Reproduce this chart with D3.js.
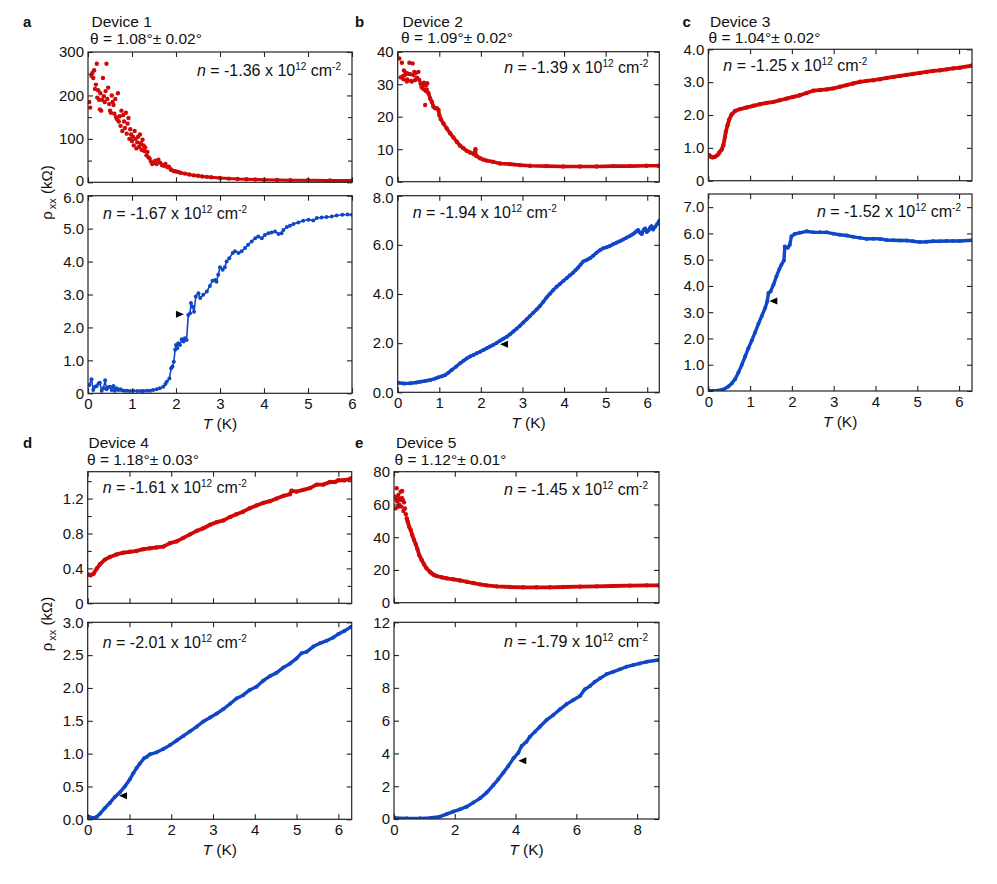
<!DOCTYPE html>
<html><head><meta charset="utf-8">
<script src="https://cdn.jsdelivr.net/npm/d3@7"></script>
<style>
body{margin:0;background:#fff;}
svg text{font-family:"Liberation Sans",Arial,Helvetica,sans-serif;fill:#111;}
</style></head><body>
<svg id="chart" width="997" height="884"></svg>
<script>
// ---------------- DATA (T in K, rho_xx in kOhm) ----------------
const dev1TopScatter = [[0.03,185],[0.05,172],[0.08,245],[0.1,252],[0.12,240],[0.14,258],[0.16,215],[0.18,225],[0.2,273],[0.21,195],[0.23,212],[0.25,190],[0.27,168],[0.28,205],[0.3,165],[0.32,190],[0.34,240],[0.36,198],[0.38,185],[0.4,210],[0.42,273],[0.44,192],[0.46,218],[0.48,180],[0.5,165],[0.52,160],[0.54,200],[0.56,185],[0.58,178],[0.6,158],[0.62,192],[0.64,150],[0.66,145],[0.68,205],[0.7,140],[0.72,152],[0.74,130],[0.76,165],[0.78,118],[0.8,155],[0.82,140],[0.84,125],[0.86,160],[0.88,112],[0.9,135],[0.92,148],[0.94,100],[0.96,122],[0.98,110],[1.0,95],[1.02,105],[1.04,85],[1.06,118],[1.08,100],[1.1,78],[1.12,92],[1.14,105],[1.16,82],[1.18,110],[1.2,90],[1.22,75],[1.24,98],[1.26,85],[1.28,72],[1.3,80],[1.33,62],[1.35,70],[1.37,58],[1.4,55],[1.43,48],[1.46,42],[1.5,45],[1.53,50],[1.56,42],[1.6,52],[1.64,45],[1.68,40],[1.72,38],[1.76,42],[1.8,35],[1.84,36],[1.88,30]];
const dev1TopTrace = [[1.9,28],[1.95,26],[2.0,25],[2.05,24],[2.1,22],[2.2,20],[2.3,18],[2.4,16],[2.5,15],[2.6,13.5],[2.7,12.5],[2.8,11.5],[3.0,10],[3.2,8.5],[3.4,7.5],[3.6,7],[3.8,6.5],[4.0,6],[4.3,5.5],[4.6,5],[5.0,4.7],[5.5,4.4],[6.0,4.2]];
const dev1Bottom = [[0.03,0.25],[0.08,0.43],[0.12,0.1],[0.16,0.2],[0.2,0.22],[0.24,0.3],[0.27,0.32],[0.31,0.08],[0.35,0.15],[0.39,0.4],[0.42,0.12],[0.46,0.18],[0.5,0.2],[0.54,0.1],[0.58,0.22],[0.61,0.08],[0.65,0.15],[0.69,0.1],[0.73,0.12],[0.77,0.09],[0.82,0.08],[0.88,0.08],[0.95,0.07],[1.03,0.08],[1.12,0.07],[1.2,0.07],[1.26,0.07],[1.34,0.08],[1.41,0.08],[1.48,0.1],[1.56,0.12],[1.63,0.15],[1.71,0.2],[1.76,0.28],[1.79,0.35],[1.85,0.45],[1.89,0.76],[1.92,0.81],[1.95,0.96],[1.98,1.32],[2.0,1.47],[2.03,1.37],[2.05,1.52],[2.09,1.47],[2.13,1.64],[2.17,1.57],[2.2,1.67],[2.24,1.62],[2.28,2.38],[2.32,2.43],[2.34,2.74],[2.38,2.63],[2.41,2.48],[2.45,2.94],[2.51,3.04],[2.55,2.89],[2.62,2.99],[2.7,3.09],[2.77,3.26],[2.83,3.42],[2.89,3.44],[2.92,3.39],[2.96,3.6],[3.0,3.83],[3.06,3.75],[3.11,3.83],[3.15,4.0],[3.21,4.1],[3.29,4.26],[3.34,4.31],[3.42,4.26],[3.49,4.31],[3.57,4.41],[3.64,4.51],[3.72,4.61],[3.8,4.71],[3.87,4.76],[3.95,4.71],[4.02,4.81],[4.1,4.86],[4.17,4.88],[4.25,4.91],[4.33,4.84],[4.4,4.86],[4.44,4.96],[4.52,5.05],[4.59,5.09],[4.67,5.14],[4.78,5.19],[4.89,5.24],[5.01,5.27],[5.12,5.25],[5.2,5.32],[5.31,5.34],[5.42,5.35],[5.54,5.37],[5.65,5.4],[5.78,5.42],[5.9,5.43],[6.0,5.42]];

const dev2TopScatter = [[0.04,37.9],[0.07,32.1],[0.1,36.6],[0.12,32.5],[0.14,31.5],[0.15,34.2],[0.17,32.8],[0.2,33.5],[0.22,30.8],[0.23,31.5],[0.25,33.2],[0.28,36.6],[0.3,33.1],[0.32,31.0],[0.34,30.8],[0.36,36.4],[0.38,32.8],[0.4,33.8],[0.42,31.3],[0.44,33.5],[0.46,32.0],[0.47,31.8],[0.5,33.8],[0.52,31.3],[0.55,30.3],[0.57,29.5],[0.58,29.0],[0.6,29.7],[0.62,28.5],[0.63,30.5],[0.66,23.6],[0.67,28.0],[0.68,29.7],[0.7,28.4],[0.71,30.3],[0.72,27.5]];
const dev2TopTrace = [[0.74,27.2],[0.78,25.6],[0.82,24.6],[0.86,23.1],[0.9,22.6],[0.94,22.6],[0.98,22.1],[1.0,20.5],[1.04,19.2],[1.1,17.9],[1.18,16.4],[1.26,14.9],[1.34,13.6],[1.42,12.3],[1.5,11.1],[1.58,10.3],[1.66,9.5],[1.74,9.0],[1.83,8.5],[1.87,10.0],[1.88,8.0],[1.9,7.9],[1.98,7.2],[2.06,6.8],[2.14,6.5],[2.3,6.1],[2.46,5.6],[2.7,5.4],[2.94,5.1],[3.18,4.9],[3.58,4.8],[3.98,4.7],[4.38,4.7],[4.78,4.7],[5.18,4.8],[5.58,4.8],[5.98,4.9],[6.27,4.9]];
const dev2Bottom = [[0.02,0.39],[0.15,0.36],[0.3,0.37],[0.45,0.4],[0.54,0.43],[0.66,0.46],[0.78,0.5],[0.9,0.56],[0.98,0.61],[1.06,0.65],[1.14,0.7],[1.22,0.8],[1.3,0.91],[1.4,1.04],[1.5,1.18],[1.58,1.28],[1.66,1.38],[1.74,1.46],[1.82,1.52],[1.9,1.59],[1.98,1.65],[2.06,1.72],[2.14,1.79],[2.22,1.86],[2.3,1.93],[2.38,2.01],[2.46,2.1],[2.54,2.18],[2.62,2.26],[2.7,2.36],[2.78,2.47],[2.86,2.59],[2.94,2.71],[3.02,2.84],[3.1,2.97],[3.18,3.1],[3.26,3.24],[3.34,3.37],[3.42,3.51],[3.5,3.68],[3.58,3.86],[3.66,4.01],[3.74,4.16],[3.82,4.29],[3.9,4.41],[3.98,4.53],[4.06,4.64],[4.14,4.76],[4.22,4.87],[4.28,4.98],[4.34,5.08],[4.4,5.2],[4.46,5.32],[4.54,5.38],[4.62,5.45],[4.7,5.56],[4.78,5.68],[4.86,5.78],[4.94,5.86],[5.02,5.9],[5.1,5.95],[5.18,6.02],[5.26,6.09],[5.34,6.15],[5.42,6.22],[5.5,6.29],[5.58,6.36],[5.64,6.42],[5.7,6.49],[5.74,6.55],[5.78,6.6],[5.82,6.5],[5.87,6.44],[5.91,6.6],[5.95,6.67],[5.99,6.52],[6.03,6.58],[6.07,6.7],[6.1,6.76],[6.14,6.62],[6.19,6.74],[6.24,6.85],[6.29,6.98]];

const dev3TopTrace = [[0.02,0.78],[0.06,0.73],[0.1,0.71],[0.16,0.73],[0.22,0.78],[0.26,0.85],[0.32,0.95],[0.36,1.08],[0.4,1.34],[0.42,1.49],[0.46,1.69],[0.5,1.86],[0.56,2.02],[0.64,2.12],[0.76,2.18],[0.92,2.23],[1.08,2.28],[1.24,2.33],[1.4,2.37],[1.56,2.4],[1.71,2.45],[1.87,2.5],[2.03,2.55],[2.19,2.6],[2.35,2.67],[2.51,2.74],[2.67,2.76],[2.83,2.78],[2.99,2.81],[3.15,2.86],[3.31,2.91],[3.47,2.96],[3.63,3.01],[3.79,3.04],[3.95,3.06],[4.11,3.09],[4.27,3.13],[4.43,3.16],[4.59,3.19],[4.74,3.22],[4.9,3.25],[5.06,3.28],[5.22,3.31],[5.38,3.34],[5.54,3.36],[5.7,3.39],[5.86,3.42],[6.02,3.44],[6.3,3.5]];
const dev3Bottom = [[0.02,0.01],[0.2,0.01],[0.36,0.06],[0.48,0.17],[0.56,0.29],[0.64,0.45],[0.72,0.7],[0.8,0.99],[0.88,1.31],[0.96,1.63],[1.04,1.92],[1.12,2.23],[1.2,2.56],[1.28,2.86],[1.36,3.16],[1.41,3.41],[1.44,3.73],[1.49,3.79],[1.56,4.05],[1.63,4.36],[1.7,4.64],[1.75,4.81],[1.81,4.97],[1.83,5.5],[1.9,5.45],[1.95,5.57],[1.99,5.89],[2.07,5.98],[2.19,6.02],[2.35,6.08],[2.51,6.04],[2.67,6.04],[2.83,6.04],[2.99,5.99],[3.15,5.95],[3.31,5.92],[3.47,5.87],[3.63,5.83],[3.79,5.79],[3.95,5.8],[4.11,5.79],[4.27,5.75],[4.43,5.74],[4.59,5.73],[4.74,5.73],[4.9,5.7],[5.06,5.67],[5.22,5.68],[5.38,5.7],[5.54,5.7],[5.7,5.71],[5.86,5.71],[6.02,5.71],[6.32,5.74]];

const dev4TopTrace = [[0.02,0.33],[0.07,0.32],[0.14,0.34],[0.22,0.4],[0.3,0.45],[0.41,0.5],[0.53,0.53],[0.69,0.56],[0.85,0.58],[1.01,0.59],[1.17,0.6],[1.33,0.62],[1.49,0.63],[1.65,0.64],[1.81,0.65],[1.97,0.69],[2.13,0.71],[2.29,0.75],[2.45,0.79],[2.61,0.83],[2.77,0.86],[2.93,0.9],[3.09,0.93],[3.25,0.95],[3.41,0.99],[3.56,1.02],[3.72,1.05],[3.88,1.09],[4.04,1.12],[4.2,1.15],[4.36,1.17],[4.52,1.2],[4.68,1.23],[4.84,1.25],[4.88,1.29],[5.0,1.28],[5.16,1.3],[5.32,1.32],[5.48,1.36],[5.64,1.36],[5.8,1.39],[5.92,1.39],[6.0,1.41],[6.15,1.41],[6.3,1.43]];
const dev4Bottom = [[0.02,0.04],[0.14,0.02],[0.22,0.04],[0.3,0.09],[0.41,0.17],[0.53,0.25],[0.65,0.34],[0.77,0.41],[0.89,0.5],[1.01,0.61],[1.09,0.7],[1.17,0.78],[1.25,0.85],[1.35,0.93],[1.41,0.95],[1.49,0.99],[1.65,1.02],[1.81,1.07],[1.97,1.13],[2.13,1.2],[2.29,1.27],[2.45,1.34],[2.61,1.41],[2.77,1.49],[2.93,1.55],[3.09,1.61],[3.25,1.68],[3.41,1.76],[3.56,1.84],[3.72,1.89],[3.88,1.97],[4.04,2.02],[4.2,2.11],[4.36,2.18],[4.52,2.23],[4.68,2.31],[4.84,2.37],[5.0,2.45],[5.12,2.53],[5.24,2.55],[5.4,2.63],[5.56,2.68],[5.72,2.72],[5.88,2.77],[6.0,2.82],[6.15,2.87],[6.3,2.93]];

const dev5TopScatter = [[0.03,64.8],[0.05,57.6],[0.07,63],[0.09,69.9],[0.11,61.7],[0.13,58.5],[0.14,65.8],[0.16,63.5],[0.18,59.7],[0.2,62.7],[0.22,67.8],[0.24,58.7],[0.26,64],[0.27,68.2],[0.29,62.7],[0.31,56],[0.33,61.3],[0.36,57.6],[0.39,54]];
const dev5TopTrace = [[0.42,51.5],[0.45,49.5],[0.5,46.4],[0.55,44.4],[0.6,41.3],[0.66,38.3],[0.72,35.6],[0.77,32.8],[0.83,29.1],[0.91,26.1],[0.99,23.4],[1.07,21],[1.18,18.9],[1.24,17.9],[1.32,16.9],[1.4,16.3],[1.57,15.5],[1.73,14.9],[1.95,14.3],[2.17,13.6],[2.39,12.8],[2.61,12],[2.83,11.2],[3.05,10.6],[3.38,10],[3.82,9.6],[4.25,9.4],[4.69,9.4],[5.13,9.4],[5.57,9.6],[6.12,9.8],[6.67,10],[7.21,10.2],[7.76,10.4],[8.31,10.6],[8.7,10.6]];
const dev5Bottom = [[0.03,0.06],[0.42,0.04],[0.86,0.04],[1.18,0.06],[1.51,0.14],[1.73,0.3],[1.95,0.45],[2.17,0.59],[2.39,0.75],[2.61,1.0],[2.83,1.26],[3.05,1.61],[3.27,2.07],[3.43,2.42],[3.6,2.83],[3.76,3.23],[3.93,3.7],[4.09,4.04],[4.2,4.45],[4.36,4.72],[4.47,5.02],[4.64,5.33],[4.8,5.63],[5.02,6.04],[5.24,6.34],[5.46,6.69],[5.68,7.01],[5.9,7.26],[6.12,7.5],[6.28,7.91],[6.45,8.11],[6.61,8.37],[6.78,8.58],[7.0,8.84],[7.21,8.98],[7.43,9.13],[7.65,9.29],[7.87,9.39],[8.09,9.49],[8.31,9.59],[8.7,9.7]];

// tick values and labels
const xTicks6 = [0,1,2,3,4,5,6];
const xLabels6 = ["0","1","2","3","4","5","6"];
const xTicks8 = [0,2,4,6,8];
const xLabels8 = ["0","2","4","6","8"];
const aTopTicks = [0,100,200,300], aTopLabels = ["0","100","200","300"], aTopMinor = [50,150,250];
const aBotTicks = [0,1,2,3,4,5,6], aBotLabels = ["0","1.0","2.0","3.0","4.0","5.0","6.0"];
const bTopTicks = [0,10,20,30,40], bTopLabels = ["0","10","20","30","40"];
const bBotTicks = [0,2,4,6,8], bBotLabels = ["0.0","2.0","4.0","6.0","8.0"];
const cTopTicks = [0,1,2,3,4], cTopLabels = ["0","1.0","2.0","3.0","4.0"];
const cBotTicks = [0,1,2,3,4,5,6,7], cBotLabels = ["0","1.0","2.0","3.0","4.0","5.0","6.0","7.0"];
const dTopTicks = [0,0.4,0.8,1.2], dTopLabels = ["0","0.4","0.8","1.2"], dTopMinor = [0.2,0.6,1.0,1.4];
const dBotTicks = [0,0.5,1,1.5,2,2.5,3], dBotLabels = ["0.0","0.5","1.0","1.5","2.0","2.5","3.0"];
const eTopTicks = [0,20,40,60,80], eTopLabels = ["0","20","40","60","80"];
const eBotTicks = [0,2,4,6,8,10,12], eBotLabels = ["0","2","4","6","8","10","12"];

const deviceNames = ["Device 1","Device 2","Device 3","Device 4","Device 5"];
const twistAngles = ["θ = 1.08°± 0.02°","θ = 1.09°± 0.02°","θ = 1.04°± 0.02°","θ = 1.18°± 0.03°","θ = 1.12°± 0.01°"];
const densTop = ["-1.36","-1.39","-1.25","-1.61","-1.45"];
const densBot = ["-1.67","-1.94","-1.52","-2.01","-1.79"];
const arrowT = [2.18, 2.46, 1.46, 0.75, 4.09];
const arrowR = [2.4, 1.96, 3.43, 0.36, 3.56];
const arrowDir = ["right","left","left","left","left"];

// ---------------- DRAWING ----------------
const RED = "#d00808", BLUE = "#1046c8";
const svg = d3.select("#chart");
let clipId = 0;

function plot(cfg){
  const x = d3.scaleLinear().domain(cfg.xDomain).range([cfg.left, cfg.right]);
  const y = d3.scaleLinear().domain(cfg.yDomain).range([cfg.bottom, cfg.top]);
  const g = svg.append("g");
  const id = "clip" + (clipId++);
  svg.append("clipPath").attr("id", id).append("rect")
    .attr("x", cfg.left).attr("y", cfg.top)
    .attr("width", cfg.right - cfg.left).attr("height", cfg.bottom - cfg.top);
  const dg = g.append("g").attr("clip-path", `url(#${id})`);
  (cfg.series || []).forEach(s => {
    if (s.line) {
      dg.append("path").datum(s.data)
        .attr("fill","none").attr("stroke", s.color).attr("stroke-width", s.lw || 2.6)
        .attr("stroke-linejoin","round").attr("stroke-linecap","round")
        .attr("d", d3.line().x(d => x(d[0])).y(d => y(d[1])));
    }
    dg.selectAll(null).data(s.data).enter().append("circle")
      .attr("cx", d => x(d[0])).attr("cy", d => y(d[1])).attr("r", s.r || 2.1)
      .attr("fill", s.color);
  });
  // axes (ticks inside, mirrored)
  const style = sel => {
    sel.select(".domain").remove();
    sel.selectAll("line").attr("stroke","#222").attr("stroke-width",1.1);
    sel.selectAll("text").attr("font-size", 15).attr("fill","#111")
      .attr("font-family", '"Liberation Sans", Arial, sans-serif');
  };
  const ly = g.append("g").attr("transform",`translate(${cfg.left},0)`)
    .call(d3.axisLeft(y).tickValues(cfg.yTicks).tickSize(-5).tickPadding(4)
      .tickFormat((d,i) => cfg.yLabels[i])).call(style);
  // small nudge so stacked "0" / top labels of adjacent plots do not collide
  if (cfg.nudgeBottom) ly.selectAll(".tick").filter(d => d === cfg.yDomain[0]).select("text").attr("y", -1.5);
  if (cfg.nudgeTop) ly.selectAll(".tick").filter(d => d === cfg.yTicks[cfg.yTicks.length-1]).select("text").attr("y", 1.5);
  g.append("g").attr("transform",`translate(${cfg.right},0)`)
    .call(d3.axisRight(y).tickValues(cfg.yTicks).tickSize(-5).tickFormat("")).call(style);
  if (cfg.yMinor) {
    g.append("g").attr("transform",`translate(${cfg.left},0)`)
      .call(d3.axisLeft(y).tickValues(cfg.yMinor).tickSize(-4).tickFormat("")).call(style);
    g.append("g").attr("transform",`translate(${cfg.right},0)`)
      .call(d3.axisRight(y).tickValues(cfg.yMinor).tickSize(-4).tickFormat("")).call(style);
  }
  g.append("g").attr("transform",`translate(0,${cfg.top})`)
    .call(d3.axisTop(x).tickValues(cfg.xTicks).tickSize(-5).tickFormat("")).call(style);
  g.append("g").attr("transform",`translate(0,${cfg.bottom})`)
    .call(d3.axisBottom(x).tickValues(cfg.xTicks).tickSize(-5).tickPadding(5)
      .tickFormat((d,i) => cfg.xLabels ? cfg.xLabels[i] : "")).call(style);
  // frame
  g.append("rect").attr("x", cfg.left).attr("y", cfg.top)
    .attr("width", cfg.right - cfg.left).attr("height", cfg.bottom - cfg.top)
    .attr("fill","none").attr("stroke","#222").attr("stroke-width",1.2);
  // density annotation
  if (cfg.dens) {
    const t = g.append("text").attr("font-size",16).attr("y", cfg.densY);
    if (cfg.densAnchor === "end") t.attr("x", cfg.right - 11).attr("text-anchor","end");
    else t.attr("x", cfg.left + 15);
    t.append("tspan").attr("font-style","italic").text("n");
    t.append("tspan").text(" = " + cfg.dens + " x 10");
    t.append("tspan").attr("font-size",10).attr("dy",-6).text("12");
    t.append("tspan").attr("dy",6).text(" cm");
    t.append("tspan").attr("font-size",10).attr("dy",-6).text("-2");
  }
  // arrow
  if (cfg.arrow) {
    const ax = x(cfg.arrow.t), ay = y(cfg.arrow.r);
    const w = 8, h = 3.5;
    const pts = cfg.arrow.dir === "right"
      ? [[ax,ay],[ax-w,ay-h],[ax-w,ay+h]]
      : [[ax,ay],[ax+w,ay-h],[ax+w,ay+h]];
    g.append("path").attr("d", d3.line()(pts) + "Z").attr("fill","#000");
  }
  return {x, y};
}

function xTitle(cx, by){
  const t = svg.append("text").attr("x", cx).attr("y", by).attr("text-anchor","middle").attr("font-size",15.5);
  t.append("tspan").attr("font-style","italic").text("T");
  t.append("tspan").text(" (K)");
}
function yTitle(bx, cy){
  const t = svg.append("text").attr("transform",`translate(${bx},${cy}) rotate(-90)`)
    .attr("text-anchor","middle").attr("font-size",15);
  t.append("tspan").text("ρ");
  t.append("tspan").attr("font-size",11).attr("dx",2).attr("dy",3.5).text("xx");
  t.append("tspan").attr("dy",-3.5).text(" (kΩ)");
}
function header(letter, lx, dx, by, i){
  svg.append("text").attr("x", lx).attr("y", by).attr("font-size",15).attr("font-weight","bold").text(letter);
  svg.append("text").attr("x", dx).attr("y", by).attr("font-size",15.5).text(deviceNames[i]);
  svg.append("text").attr("x", dx - 1.5).attr("y", by + 16.5).attr("font-size",15.5).text(twistAngles[i]);
}

const P = [
  {L:88, R:352, top:[52,182.3], bot:[195.7,393.3], xMax:6, xT:xTicks6, xL:xLabels6, nudge:true,
   tY:aTopTicks, tL:aTopLabels, tMin:aTopMinor, tD:[0,300], bY:aBotTicks, bL:aBotLabels, bD:[0,6],
   topSeries:[{data:dev1TopScatter,color:RED,r:2.2},{data:dev1TopTrace,color:RED,line:true,lw:3,r:2.2}],
   botSeries:[{data:dev1Bottom,color:BLUE,line:true,lw:1.6,r:2.0}],
   tAnch:"end", tDY:75.5, bAnch:"start", bDY:219.3},
  {L:397.7, R:659.3, top:[51.7,181.7], bot:[195.7,392.3], xMax:6.29, xT:xTicks6, xL:xLabels6, nudge:true,
   tY:bTopTicks, tL:bTopLabels, tD:[0,40], bY:bBotTicks, bL:bBotLabels, bD:[0,8],
   topSeries:[{data:dev2TopScatter,color:RED,r:2.2},{data:dev2TopTrace,color:RED,line:true,lw:3.6,r:2.2}],
   botSeries:[{data:dev2Bottom,color:BLUE,line:true,lw:3.4,r:2.0}],
   tAnch:"end", tDY:73, bAnch:"start", bDY:217.7},
  {L:708.3, R:972, top:[49.3,180.7], bot:[194,391], xMax:6.31, xT:xTicks6, xL:xLabels6,
   tY:cTopTicks, tL:cTopLabels, tD:[0,4], bY:cBotTicks, bL:cBotLabels, bD:[0,7.5],
   topSeries:[{data:dev3TopTrace,color:RED,line:true,lw:3.8,r:2.2}],
   botSeries:[{data:dev3Bottom,color:BLUE,line:true,lw:3.4,r:2.0}],
   tAnch:"start", tDY:70.7, bAnch:"end", bDY:217.3},
  {L:87.7, R:351.7, top:[471.7,603.3], bot:[622.3,819.3], xMax:6.32, xT:xTicks6, xL:xLabels6,
   tY:dTopTicks, tL:dTopLabels, tMin:dTopMinor, tD:[0,1.508], bY:dBotTicks, bL:dBotLabels, bD:[0,3],
   topSeries:[{data:dev4TopTrace,color:RED,line:true,lw:3.8,r:2.2}],
   botSeries:[{data:dev4Bottom,color:BLUE,line:true,lw:3.4,r:2.0}],
   tAnch:"start", tDY:493.3, bAnch:"start", bDY:647.7},
  {L:394, R:659, top:[471.7,602.7], bot:[622.3,819], xMax:8.72, xT:xTicks8, xL:xLabels8,
   tY:eTopTicks, tL:eTopLabels, tD:[0,80], bY:eBotTicks, bL:eBotLabels, bD:[0,12],
   topSeries:[{data:dev5TopScatter,color:RED,r:2.2},{data:dev5TopTrace,color:RED,line:true,lw:3.8,r:2.2}],
   botSeries:[{data:dev5Bottom,color:BLUE,line:true,lw:3.4,r:2.0}],
   tAnch:"end", tDY:495, bAnch:"end", bDY:647.3}
];

P.forEach((p, i) => {
  plot({left:p.L, right:p.R, top:p.top[0], bottom:p.top[1], xDomain:[0,p.xMax], yDomain:p.tD,
    yTicks:p.tY, yLabels:p.tL, yMinor:p.tMin, xTicks:p.xT, xLabels:null, nudgeBottom:p.nudge,
    series:p.topSeries, dens:densTop[i], densAnchor:p.tAnch, densY:p.tDY});
  plot({left:p.L, right:p.R, top:p.bot[0], bottom:p.bot[1], xDomain:[0,p.xMax], yDomain:p.bD,
    yTicks:p.bY, yLabels:p.bL, xTicks:p.xT, xLabels:p.xL, nudgeTop:p.nudge,
    series:p.botSeries, dens:densBot[i], densAnchor:p.bAnch, densY:p.bDY,
    arrow:{t:arrowT[i], r:arrowR[i], dir:arrowDir[i]}});
  xTitle((p.L + p.R)/2, p.bot[1] + 36);
});

header("a", 23, 91.5, 27, 0);
header("b", 355, 402.5, 26.5, 1);
header("c", 682.5, 710, 26.5, 2);
header("d", 23, 88.5, 448, 3);
header("e", 355, 396, 448, 4);
yTitle(52, 192.5);
yTitle(52, 624);
</script>
</body></html>
